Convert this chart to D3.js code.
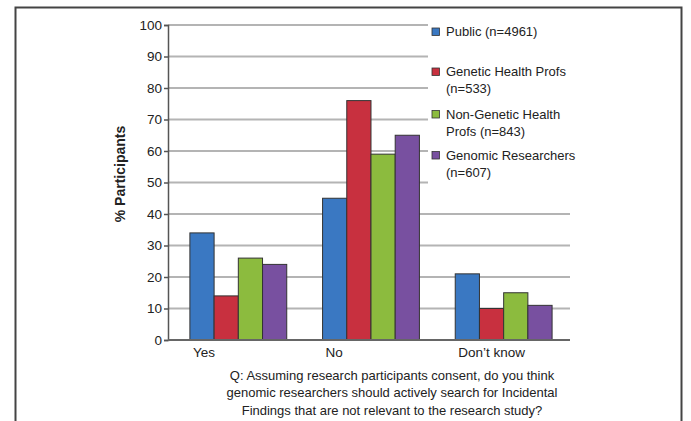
<!DOCTYPE html>
<html>
<head>
<meta charset="utf-8">
<script src="https://cdn.jsdelivr.net/npm/d3@7"></script>
<style>
  html, body { margin: 0; padding: 0; background: #fff; }
  svg { display: block; font-family: "Liberation Sans", Arial, sans-serif; }
</style>
</head>
<body>
<div id="chart"></div>
<script>
// data
const categories = ["Yes", "No", "Don\u2019t know"];
const seriesNames = ["Public (n=4961)", "Genetic Health Profs (n=533)", "Non-Genetic Health Profs (n=843)", "Genomic Researchers (n=607)"];
const legendLines = [["Public (n=4961)"], ["Genetic Health Profs", "(n=533)"], ["Non-Genetic Health", "Profs (n=843)"], ["Genomic Researchers", "(n=607)"]];
const publicVals = [34, 45, 21];
const geneticVals = [14, 76, 10];
const nonGeneticVals = [26, 59, 15];
const genomicVals = [24, 65, 11];
const yTicks = [0, 10, 20, 30, 40, 50, 60, 70, 80, 90, 100];
const captionLines = [
  "Q: Assuming research participants consent, do you think",
  "genomic researchers should actively search for Incidental",
  "Findings that are not relevant to the research study?"
];

const seriesVals = [publicVals, geneticVals, nonGeneticVals, genomicVals];
const colors = ["#3a78c2", "#c8303f", "#8cbb3e", "#7850a0"];

const W = 691, H = 421;
const svg = d3.select("#chart").append("svg").attr("width", W).attr("height", H);

// outer frame (open at the bottom)
svg.append("path")
  .attr("d", "M15.5,421 V7.5 H681.5 V421")
  .attr("fill", "none").attr("stroke", "#444").attr("stroke-width", 2);

const x0 = d3.scaleBand().domain(categories).range([168, 570])
  .paddingInner(0.27).paddingOuter(0.15).align(0.55);
const x1 = d3.scaleBand().domain(d3.range(seriesNames.length)).range([0, x0.bandwidth()]);
const y = d3.scaleLinear().domain([0, 100]).range([340, 25]);

// gridlines
svg.append("g").selectAll("line").data(yTicks.filter(d => d > 0)).join("line")
  .attr("x1", 168).attr("x2", 570)
  .attr("y1", d => y(d)).attr("y2", d => y(d))
  .attr("stroke", "#b4b4b4").attr("stroke-width", 2);

// legend background covers the upper gridlines
const lg = svg.append("g");
lg.append("rect").attr("x", 428).attr("y", 14).attr("width", 180).attr("height", 180).attr("fill", "#fff");
const legendY = [31.5, 71.5, 114, 155];
legendLines.forEach((lines, i) => {
  lg.append("rect").attr("x", 432).attr("y", legendY[i] - 3.5).attr("width", 7.5).attr("height", 7.5)
    .attr("fill", colors[i]).attr("stroke", "#333").attr("stroke-width", 0.8);
  lines.forEach((t, j) => {
    lg.append("text").attr("x", 446).attr("y", legendY[i] + j * 17)
      .attr("dy", "0.35em").attr("font-size", 13).attr("fill", "#222").text(t);
  });
});

// bars
const groups = svg.append("g").selectAll("g").data(categories).join("g")
  .attr("transform", d => `translate(${x0(d)},0)`);
groups.selectAll("rect").data((d, ci) => seriesVals.map((s, si) => ({ si, v: s[ci] }))).join("rect")
  .attr("x", d => x1(d.si)).attr("width", x1.bandwidth())
  .attr("y", d => y(d.v)).attr("height", d => y(0) - y(d.v))
  .attr("fill", d => colors[d.si]).attr("stroke", "#333").attr("stroke-width", 1);

// y axis
const yAxis = svg.append("g").attr("transform", "translate(168,0)")
  .call(d3.axisLeft(y).tickValues(yTicks).tickSize(4).tickPadding(2));
yAxis.select(".domain").attr("stroke", "#555").attr("stroke-width", 1.5);
yAxis.selectAll(".tick line").attr("stroke", "#555").attr("stroke-width", 1.5);
yAxis.selectAll("text").attr("font-size", 13.5).attr("fill", "#222").attr("font-family", "Liberation Sans, Arial, sans-serif");

// x axis line
svg.append("line").attr("x1", 168).attr("x2", 570).attr("y1", y(0)).attr("y2", y(0))
  .attr("stroke", "#666").attr("stroke-width", 2);

// category labels (left-ish in each group)
svg.append("g").selectAll("text").data(categories).join("text")
  .attr("x", d => x0(d) + 3).attr("y", 352).attr("dy", "0.35em")
  .attr("font-size", 13.5).attr("fill", "#222").text(d => d);

// y title
svg.append("text").attr("transform", "translate(120,174) rotate(-90)")
  .attr("text-anchor", "middle").attr("dy", "0.35em")
  .attr("font-size", 14).attr("font-weight", "bold").attr("fill", "#222").text("% Participants");

// caption
svg.append("g").selectAll("text").data(captionLines).join("text")
  .attr("x", 392).attr("y", (d, i) => 375 + i * 17.5).attr("dy", "0.35em")
  .attr("text-anchor", "middle").attr("font-size", 13).attr("fill", "#222").text(d => d);
</script>
</body>
</html>
